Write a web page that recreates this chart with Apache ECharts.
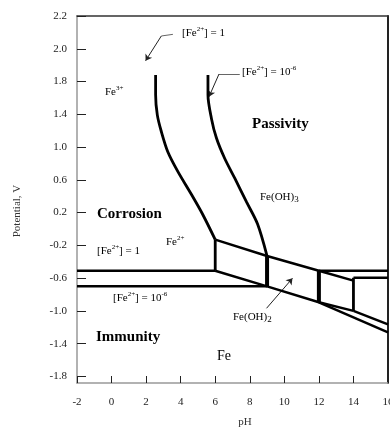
<!DOCTYPE html>
<html><head><meta charset="utf-8">
<script src="https://cdn.jsdelivr.net/npm/echarts@6/dist/echarts.min.js"></script>
<style>html,body{margin:0;padding:0;background:#fff;} #c{width:390px;height:427px;}</style>
</head><body><div id="c"></div>
<script>
// ---- data (pH, potential in V) ----
const xTicks = [-2, 0, 2, 4, 6, 8, 10, 12, 14, 16];
const yTickLabels = [-1.8, -1.4, -1.0, -0.6, -0.2, 0.2, 0.6, 1.0, 1.4, 1.8, 2.0, 2.2];

const curveFe1 = [[2.55, 1.84], [2.55, 1.64], [2.65, 1.39], [2.88, 1.19], [3.26, 0.94], [3.84, 0.70], [4.6, 0.43], [5.27, 0.18], [6.0, -0.13]];
const curveFe6 = [[5.58, 1.84], [5.58, 1.64], [5.78, 1.35], [6.07, 1.11], [6.55, 0.86], [7.13, 0.62], [7.81, 0.33], [8.45, 0.06], [9.0, -0.33]];
const feLine1 = [[-2, -0.51], [6, -0.51]];
const feLine6 = [[-2, -0.70], [9, -0.70]];
const upperSlope = [[6, -0.13], [9, -0.33], [12, -0.51], [14, -0.63]];
const lowerSlope = [[6, -0.51], [9, -0.70], [12, -0.895], [14, -1.0]];
const thinVerticals = [[[6, -0.13], [6, -0.51]], [[14, -0.595], [14, -1.0]]];
const thickVerticals = [[[9, -0.33], [9, -0.70]], [[12, -0.51], [12, -0.895]]];
const rightLines = [[[12, -0.51], [16, -0.51]], [[14, -0.595], [16, -0.595]], [[14, -1.0], [16, -1.164]], [[12, -0.895], [16, -1.261]]];

const leaderLines = [[[3.55, 2.088], [2.88, 2.078]], [[7.42, 1.846], [6.22, 1.846]]];
const arrowHeads = [[[2.88, 2.078], [1.97, 1.927]], [[6.22, 1.846], [5.64, 1.615]], [[8.97, -0.968], [10.47, -0.602]]];

// map potential to position on the printed (piecewise) potential axis
function ePos(v) {
  const L = yTickLabels;
  let i = 0;
  while (i < L.length - 2 && v > L[i + 1]) i++;
  return i + (v - L[i]) / (L[i + 1] - L[i]);
}
const toXY = pts => pts.map(p => [p[0], ePos(p[1])]);

const SERIF = '"Liberation Serif", "Times New Roman", serif';
const idx = yTickLabels.map((_, i) => i);

function lineSeries(pts, width, smooth) {
  return {
    type: 'line', data: toXY(pts), symbol: 'none', smooth: smooth || false,
    lineStyle: { color: '#000', width: width }, silent: true, animation: false, z: 3
  };
}

const series = [
  lineSeries(curveFe1, 2.8, 0.3),
  lineSeries(curveFe6, 2.8, 0.3),
  lineSeries(feLine1, 2.5),
  lineSeries(feLine6, 2.5),
  lineSeries(upperSlope, 2.5),
  lineSeries(lowerSlope, 2.5),
  ...thinVerticals.map(s => lineSeries(s, 2.8)),
  ...thickVerticals.map(s => lineSeries(s, 4)),
  ...rightLines.map(s => lineSeries(s, 2.5)),
  {
    type: 'lines', coordinateSystem: 'cartesian2d', symbol: ['none', 'none'],
    lineStyle: { color: '#666', width: 1, opacity: 1 }, silent: true, animation: false,
    data: leaderLines.map(s => ({ coords: toXY(s) }))
  },
  {
    type: 'lines', coordinateSystem: 'cartesian2d', symbol: ['none', 'arrow'], symbolSize: 6,
    lineStyle: { color: '#222', width: 1, opacity: 1 }, silent: true, animation: false,
    data: arrowHeads.map(s => ({ coords: toXY(s) }))
  }
];

const rich = {
  n: { fontFamily: SERIF, fontSize: 11, lineHeight: 14, fill: '#000' },
  sup: { fontFamily: SERIF, fontSize: 7, lineHeight: 8, verticalAlign: 'top', fill: '#000' },
  sub: { fontFamily: SERIF, fontSize: 9, lineHeight: 9, verticalAlign: 'bottom', fill: '#000' },
  b: { fontFamily: SERIF, fontSize: 15, fontWeight: 'bold', lineHeight: 18, fill: '#000' },
  f: { fontFamily: SERIF, fontSize: 14, lineHeight: 16, fill: '#000' }
};
function txt(x, y, text) {
  return { type: 'text', x: x, y: y, silent: true, z: 10,
    style: { text: text, rich: rich, textVerticalAlign: 'middle', textAlign: 'left' } };
}

const graphic = [
  txt(182, 33, '{n|[Fe}{sup|2+}{n|] = 1}'),
  txt(242, 72, '{n|[Fe}{sup|2+}{n|] = 10}{sup|-6}'),
  txt(105, 92, '{n|Fe}{sup|3+}'),
  txt(252, 124, '{b|Passivity}'),
  txt(260, 197, '{n|Fe(OH)}{sub|3}'),
  txt(97, 214, '{b|Corrosion}'),
  txt(166, 242, '{n|Fe}{sup|2+}'),
  txt(97, 251, '{n|[Fe}{sup|2+}{n|] = 1}'),
  txt(113, 298, '{n|[Fe}{sup|2+}{n|] = 10}{sup|-6}'),
  txt(233, 317, '{n|Fe(OH)}{sub|2}'),
  txt(96, 337, '{b|Immunity}'),
  txt(217, 356, '{f|Fe}'),
  { type: 'text', x: 17, y: 211, rotation: Math.PI / 2, silent: true,
    style: { text: 'Potential, V', font: '11px ' + SERIF, fill: '#333', textAlign: 'center', textVerticalAlign: 'middle' } },
  { type: 'text', x: 245, y: 422, silent: true,
    style: { text: 'pH', font: '11px ' + SERIF, fill: '#333', textAlign: 'center', textVerticalAlign: 'middle' } }
];

const chart = echarts.init(document.getElementById('c'), null, { renderer: 'canvas' });
chart.setOption({
  backgroundColor: '#fff',
  animation: false,
  grid: { left: 77, right: 2, top: 16, bottom: 44, containLabel: false, outerBoundsMode: 'none' },
  xAxis: [
    {
      type: 'value', min: xTicks[0], max: xTicks[xTicks.length - 1], interval: 2,
      axisLine: { show: true, onZero: false, lineStyle: { color: '#999', width: 1.5 } },
      axisTick: { show: true, inside: true, length: 7, lineStyle: { color: '#222', width: 1 } },
      axisLabel: { margin: 14, fontFamily: SERIF, fontSize: 11, color: '#222', showMaxLabel: true, hideOverlap: false },
      splitLine: { show: false }
    },
    {
      type: 'value', position: 'top', min: xTicks[0], max: xTicks[xTicks.length - 1],
      axisLine: { show: true, onZero: false, lineStyle: { color: '#333', width: 1.5 } },
      axisTick: { show: false }, axisLabel: { show: false }, splitLine: { show: false }
    }
  ],
  yAxis: [
    {
      type: 'value', min: -0.2, max: 11,
      axisLine: { show: true, onZero: false, lineStyle: { color: '#999', width: 1.5 } },
      axisTick: { show: true, inside: true, length: 9, customValues: idx, lineStyle: { color: '#222', width: 1 } },
      axisLabel: { margin: 10, fontFamily: SERIF, fontSize: 11, color: '#222', customValues: idx,
        formatter: v => yTickLabels[Math.round(v)].toFixed(1) },
      splitLine: { show: false }
    },
    {
      type: 'value', position: 'right', min: -0.2, max: 11,
      axisLine: { show: true, onZero: false, lineStyle: { color: '#222', width: 2 } },
      axisTick: { show: false }, axisLabel: { show: false }, splitLine: { show: false }
    }
  ],
  series: series,
  graphic: graphic
});
</script>
</body></html>
